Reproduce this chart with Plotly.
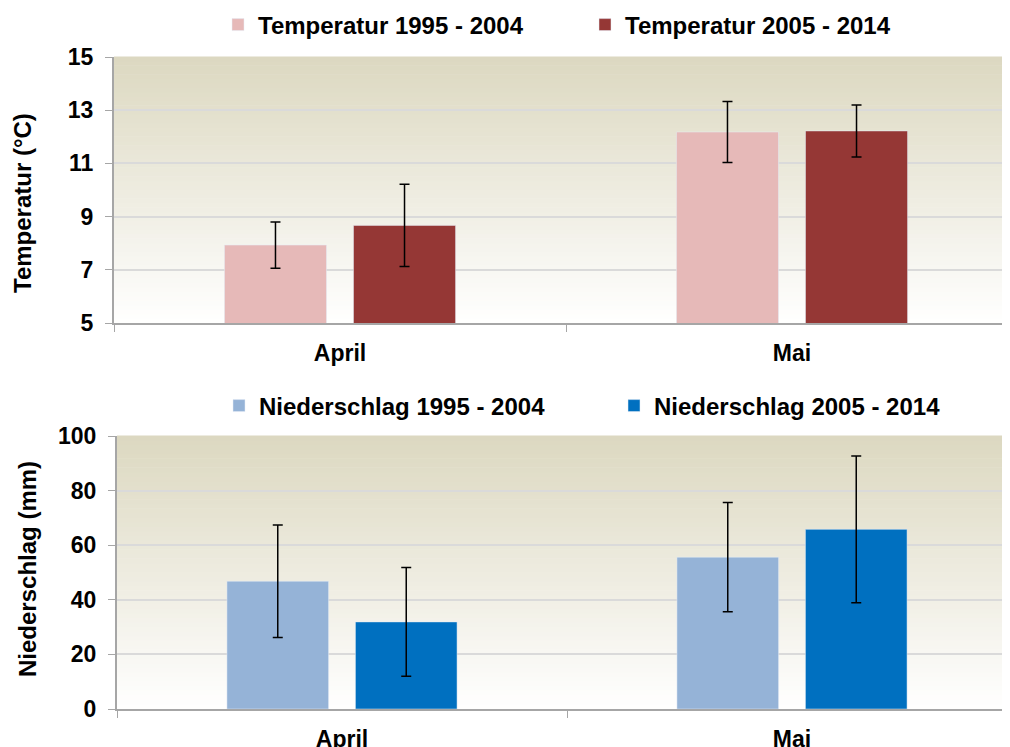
import plotly.graph_objects as go

months = ["April", "Mai"]

temp_1995 = [7.93, 12.18]
temp_1995_err = [0.87, 1.15]
temp_2005 = [8.67, 12.22]
temp_2005_err = [1.55, 0.98]

rain_1995 = [46.8, 55.6]
rain_1995_err = [20.6, 20.0]
rain_2005 = [31.9, 65.8]
rain_2005_err = [19.9, 26.9]

PINK = "#E6B9B8"
DARKRED = "#953735"
LIGHTBLUE = "#95B3D7"
BLUE = "#0070C0"
FONT = "Liberation Sans, Arial, sans-serif"
TAN = (220, 216, 192)

# page body has an 8px margin, so the figure is 8px smaller than the window
OFF = 8
W, H = 1010 - OFF, 747 - OFF


def px(x):
    return (x - OFF) / W


def py(y):
    return 1 - (y - OFF) / H


def err(vals):
    return dict(type="data", array=vals, visible=True, color="black",
                thickness=1.5, width=5)


fig = go.Figure()
fig.add_trace(go.Bar(x=months, y=temp_1995, error_y=err(temp_1995_err), name="Temperatur 1995 - 2004",
                     marker_color=PINK, xaxis="x", yaxis="y", legend="legend"))
fig.add_trace(go.Bar(x=months, y=temp_2005, error_y=err(temp_2005_err), name="Temperatur 2005 - 2014",
                     marker_color=DARKRED, xaxis="x", yaxis="y", legend="legend"))
fig.add_trace(go.Bar(x=months, y=rain_1995, error_y=err(rain_1995_err), name="Niederschlag 1995 - 2004",
                     marker_color=LIGHTBLUE, xaxis="x2", yaxis="y2", legend="legend2"))
fig.add_trace(go.Bar(x=months, y=rain_2005, error_y=err(rain_2005_err), name="Niederschlag 2005 - 2014",
                     marker_color=BLUE, xaxis="x2", yaxis="y2", legend="legend2"))

# background gradient (tan at top fading to white)
shapes = []
N = 60
for xr, yr in (("x domain", "y domain"), ("x2 domain", "y2 domain")):
    for i in range(N):
        t = (i + 0.5) / N
        c = tuple(round(255 + (v - 255) * t) for v in TAN)
        shapes.append(dict(type="rect", xref=xr, yref=yr, x0=0, x1=1,
                           y0=i / N, y1=(i + 1) / N + 0.002, layer="below",
                           fillcolor=f"rgb{c}", line=dict(width=0)))

tick_font = dict(family=FONT, size=23, color="black", weight="bold")
title_font = dict(family=FONT, size=24, color="black", weight="bold")
legend_font = dict(family=FONT, size=24, color="black", weight="bold")


def xax(domain, rng, anchor):
    return dict(domain=domain, range=rng, anchor=anchor, type="category",
                showline=True, linecolor="#A6A6A6", linewidth=2,
                ticks="outside", tickson="boundaries", ticklen=7, tickcolor="#A6A6A6",
                tickfont=tick_font, ticklabelstandoff=8,
                showgrid=False, automargin=False, fixedrange=True)


def yax(domain, rng, dtick, anchor):
    return dict(domain=domain, range=rng, tick0=rng[0], dtick=dtick, anchor=anchor,
                showline=True, linecolor="#A6A6A6", linewidth=2,
                ticks="outside", ticklen=7, tickcolor="#A6A6A6",
                showgrid=True, gridcolor="#DADADA", gridwidth=1.5,
                tickfont=tick_font, ticklabelstandoff=7,
                zeroline=False, automargin=False, fixedrange=True)


fig.update_layout(
    width=W, height=H,
    margin=dict(l=0, r=0, t=0, b=0, autoexpand=False),
    paper_bgcolor="white", plot_bgcolor="white",
    barmode="group", bargap=0.429, bargroupgap=0.209,
    font=dict(family=FONT, color="black"),
    xaxis=xax([px(114), 1], [-0.5, -0.5 + (1010 - 114) / 452], "y"),
    yaxis=yax([py(323), py(57)], [5, 15], 2, "x"),
    xaxis2=xax([px(117), 1], [-0.5, -0.5 + (1010 - 117) / 450], "y2"),
    yaxis2=yax([py(709), py(436)], [0, 100], 20, "x2"),
    legend=dict(orientation="h", x=px(218), xanchor="left", y=py(25), yanchor="middle",
                font=legend_font, entrywidth=322, bgcolor="rgba(0,0,0,0)"),
    legend2=dict(orientation="h", x=px(219), xanchor="left", y=py(406), yanchor="middle",
                 font=legend_font, entrywidth=350, bgcolor="rgba(0,0,0,0)"),
    annotations=[
        dict(text="Temperatur (°C)", textangle=-90, x=px(23), y=py(203),
             xanchor="center", yanchor="middle",
             xref="paper", yref="paper", showarrow=False, font=title_font),
        dict(text="Niederschlag (mm)", textangle=-90, x=px(27), y=py(569),
             xanchor="center", yanchor="middle",
             xref="paper", yref="paper", showarrow=False, font=title_font),
    ],
    shapes=shapes,
    showlegend=True,
)

fig.write_html("out.html")
